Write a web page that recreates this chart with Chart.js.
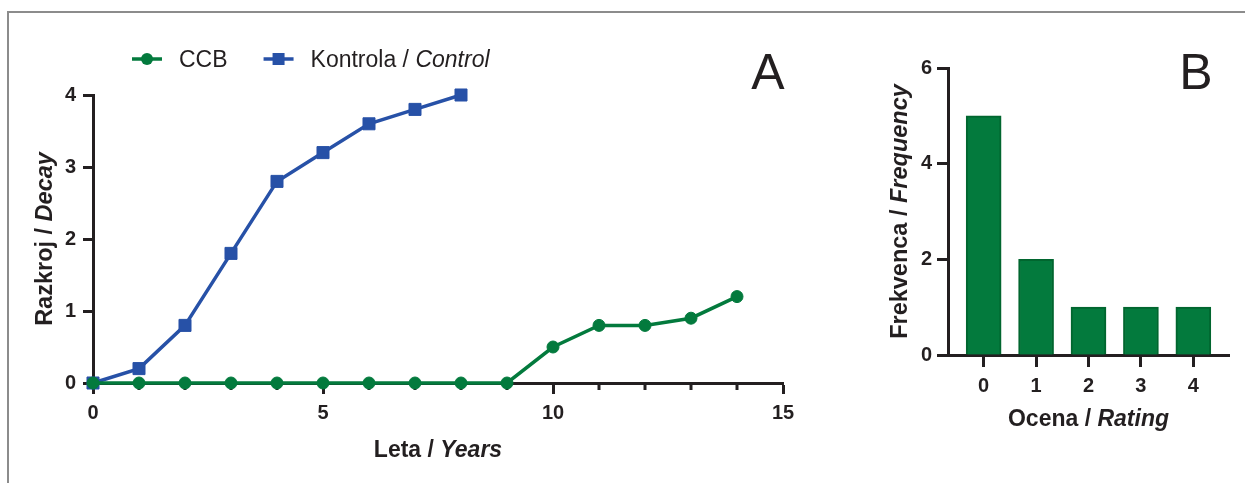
<!DOCTYPE html>
<html>
<head>
<meta charset="utf-8">
<title>Razkroj / Decay</title>
<script src="https://cdn.jsdelivr.net/npm/chart.js@4/dist/chart.umd.min.js"></script>
<style>
  html, body { margin: 0; padding: 0; background: #fff; }
  body { width: 1245px; height: 483px; position: relative; overflow: hidden; }
  #frame { position: absolute; left: 7px; top: 11px; right: -10px; bottom: -10px;
           border-top: 2px solid #8c8c8c; border-left: 2px solid #8c8c8c; }
  #chartA { position: absolute; left: 0; top: 0; }
  #chartB { position: absolute; left: 830px; top: 0; }
</style>
</head>
<body>
<div id="frame"></div>
<canvas id="chartA" width="830" height="483"></canvas>
<canvas id="chartB" width="415" height="483"></canvas>
<script>
// panel A - decay over years
const years = [0, 1, 2, 3, 4, 5, 6, 7, 8, 9, 10, 11, 12, 13, 14];
const ccbDecay = [0, 0, 0, 0, 0, 0, 0, 0, 0, 0, 0.5, 0.8, 0.8, 0.9, 1.2];
const controlDecay = [0, 0.2, 0.8, 1.8, 2.8, 3.2, 3.6, 3.8, 4.0];
const yearTicks = [0, 5, 10, 15];
const decayTicks = [0, 1, 2, 3, 4];

// panel B - rating frequency
const ratings = [0, 1, 2, 3, 4];
const frequency = [5, 2, 1, 1, 1];
const freqTicks = [0, 2, 4, 6];

const FONT = "'Liberation Sans', Arial, Helvetica, sans-serif";
const INK = '#231f20';
const GREEN = '#037a3d';
const GREEN_DARK = '#01662f';
const BLUE = '#2751a7';

// split "a / b" so the english part is italic
function parts(text, weight, size) {
  const [a, b] = text.split(' / ');
  const f = weight + ' ' + size + 'px ' + FONT;
  if (b === undefined) return [{ t: a, f }];
  return [{ t: a + ' / ', f }, { t: b, f: 'italic ' + f }];
}

function drawParts(ctx, segs, x, y, center) {
  let w = 0;
  segs.forEach(s => { ctx.font = s.f; s.w = ctx.measureText(s.t).width; w += s.w; });
  let cx = center ? x - w / 2 : x;
  ctx.textAlign = 'left';
  segs.forEach(s => { ctx.font = s.f; ctx.fillText(s.t, cx, y); cx += s.w; });
  return w;
}

const decor = {
  id: 'decor',
  beforeDatasetsDraw(chart, args, opts) {
    if (!opts.minorX) return;
    const ctx = chart.ctx, xs = chart.scales.x, bottom = chart.chartArea.bottom;
    ctx.save();
    ctx.strokeStyle = INK;
    ctx.lineWidth = 3;
    for (let v = xs.min; v <= xs.max; v += opts.minorX) {
      if (v % 5 === 0) continue;
      const px = xs.getPixelForValue(v);
      ctx.beginPath();
      ctx.moveTo(px, bottom);
      ctx.lineTo(px, bottom + 7);
      ctx.stroke();
    }
    ctx.restore();
  },
  afterDraw(chart, args, opts) {
    const ctx = chart.ctx, a = chart.chartArea;
    ctx.save();
    ctx.fillStyle = INK;
    ctx.textBaseline = 'alphabetic';
    drawParts(ctx, parts(opts.xTitle, 'bold', 23), (a.left + a.right) / 2, a.bottom + opts.xTitleOffset, true);
    ctx.save();
    ctx.translate(a.left - 41, (a.top + a.bottom) / 2);
    ctx.rotate(-Math.PI / 2);
    drawParts(ctx, parts(opts.yTitle, 'bold', 23.5), 0, 0, true);
    ctx.restore();

    ctx.font = '50px ' + FONT;
    ctx.textAlign = 'center';
    ctx.fillText(opts.letter, opts.letterX, 89);

    if (opts.legend) {
      let x = 132;
      chart.data.datasets.forEach(ds => {
        ctx.strokeStyle = ds.borderColor;
        ctx.fillStyle = ds.borderColor;
        ctx.lineWidth = 3.5;
        ctx.beginPath();
        ctx.moveTo(x, 59);
        ctx.lineTo(x + 30, 59);
        ctx.stroke();
        ctx.beginPath();
        if (ds.pointStyle === 'rect') ctx.rect(x + 9, 53, 12, 12);
        else ctx.arc(x + 15, 59, 6, 0, Math.PI * 2);
        ctx.fill();
        ctx.fillStyle = INK;
        const w = drawParts(ctx, parts(ds.label, 'normal', 23), x + 47, 67, false);
        x += 47 + w + 36;
      });
    }
    ctx.restore();
  }
};

const tickFont = { family: FONT, size: 20, weight: 'bold' };

function axis(ticksList, tickLength, padding, fit) {
  return {
    type: 'linear',
    min: ticksList[0],
    offset: false,
    afterBuildTicks: s => { s.ticks = ticksList.map(v => ({ value: v })); },
    afterFit: fit,
    ticks: { font: tickFont, color: INK, padding: padding, maxRotation: 0 },
    grid: { display: true, offset: false, drawOnChartArea: false, drawTicks: true,
            tickLength: tickLength, tickWidth: 3, tickColor: INK },
    border: { display: true, color: INK, width: 3 }
  };
}

new Chart(document.getElementById('chartA'), {
  type: 'line',
  data: {
    datasets: [
      {
        label: 'CCB',
        data: years.map((x, i) => ({ x: x, y: ccbDecay[i] })),
        borderColor: GREEN, backgroundColor: GREEN,
        borderWidth: 3.5, pointStyle: 'circle', pointRadius: 6,
        pointBorderWidth: 1, clip: false
      },
      {
        label: 'Kontrola / Control',
        data: controlDecay.map((y, i) => ({ x: years[i], y: y })),
        borderColor: BLUE, backgroundColor: BLUE,
        borderWidth: 3.5, pointStyle: 'rect', pointRadius: 8.5,
        pointBorderWidth: 1, clip: false
      }
    ]
  },
  options: {
    responsive: false,
    animation: false,
    layout: { padding: { left: 0, right: 47, top: 95, bottom: 0 } },
    scales: {
      x: Object.assign(axis(yearTicks, 11, 7, s => { s.height = 100; }), { max: 15 }),
      y: Object.assign(axis(decayTicks, 10, 7, s => { s.width = 93; }), { max: 4 })
    },
    plugins: {
      legend: { display: false },
      tooltip: { enabled: false },
      decor: { xTitle: 'Leta / Years', yTitle: 'Razkroj / Decay', xTitleOffset: 74,
               letter: 'A', letterX: 768, legend: true, minorX: 1 }
    }
  },
  plugins: [decor]
});

new Chart(document.getElementById('chartB'), {
  type: 'bar',
  data: {
    datasets: [{
      label: 'Frekvenca / Frequency',
      data: ratings.map((x, i) => ({ x: x, y: frequency[i] })),
      backgroundColor: GREEN, borderColor: GREEN_DARK,
      borderWidth: 2, barThickness: 35
    }]
  },
  options: {
    responsive: false,
    animation: false,
    layout: { padding: { left: 0, right: 16, top: 68, bottom: 0 } },
    scales: {
      x: Object.assign(axis(ratings, 12, 7, s => { s.height = 128; }), { min: -0.68, max: 4.68, z: 1 }),
      y: Object.assign(axis(freqTicks, 11, 5, s => { s.width = 118; }), { max: 6, z: 1 })
    },
    plugins: {
      legend: { display: false },
      tooltip: { enabled: false },
      decor: { xTitle: 'Ocena / Rating', yTitle: 'Frekvenca / Frequency', xTitleOffset: 71,
               letter: 'B', letterX: 366 }
    }
  },
  plugins: [decor]
});
</script>
</body>
</html>
